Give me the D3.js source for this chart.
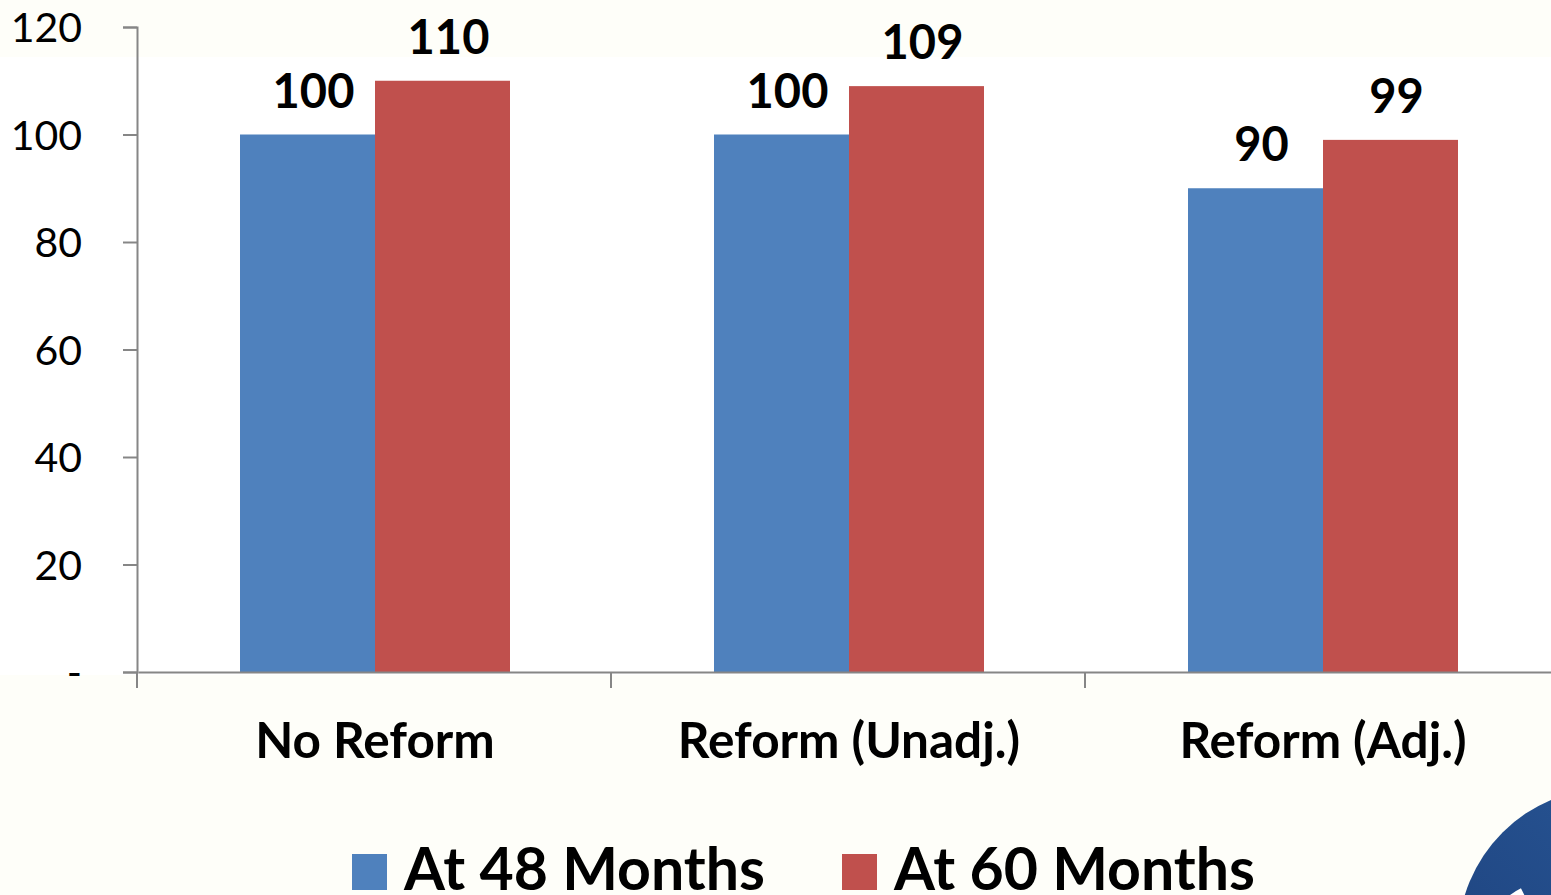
<!DOCTYPE html>
<html>
<head>
<meta charset="utf-8">
<script src="https://cdn.jsdelivr.net/npm/d3@7"></script>
<style>
  html, body { margin: 0; padding: 0; background: #fefef9; overflow: hidden; }
  svg { display: block; }
  text { font-family: Lato, "Open Sans", "DejaVu Sans", sans-serif; fill: #000; }
</style>
</head>
<body>
<svg id="chart" width="1551" height="895"></svg>
<script>
// Payment index by scenario, measured at 48 and 60 months
const categories = ["No Reform", "Reform (Unadj.)", "Reform (Adj.)"];
const seriesNames = ["At 48 Months", "At 60 Months"];
const at48Months = [100, 100, 90];
const at60Months = [110, 109, 99];
const yTicks = [0, 20, 40, 60, 80, 100, 120];
const yTickLabels = ["-", "20", "40", "60", "80", "100", "120"];
const colors = ["#4f81bd", "#c0504d"];

const svg = d3.select("#chart");
const W = 1551, H = 895;

// white plotting band behind the chart
svg.append("rect").attr("x", 0).attr("y", 57).attr("width", W).attr("height", 618).attr("fill", "#ffffff");

const x0 = d3.scaleBand().domain(categories).range([138, 1560]).padding(0);
const x1 = d3.scaleBand().domain(seriesNames).range([102, 372]).padding(0);
const y = d3.scaleLinear().domain([0, 120]).range([672, 27]);

const rows = categories.map((c, i) => ({
  category: c,
  values: [at48Months[i], at60Months[i]].map((v, j) => ({ series: seriesNames[j], value: v, color: colors[j] }))
}));

// bars
const groups = svg.append("g").selectAll("g").data(rows).join("g")
  .attr("transform", d => `translate(${x0(d.category)},0)`);

groups.selectAll("rect").data(d => d.values).join("rect")
  .attr("x", d => x1(d.series))
  .attr("y", d => y(d.value))
  .attr("width", x1.bandwidth())
  .attr("height", d => y(0) - y(d.value))
  .attr("fill", d => d.color);

// value labels
groups.selectAll("text.val").data(d => d.values).join("text")
  .attr("class", "val")
  .attr("x", d => x1(d.series) + x1.bandwidth() / 2 + 6)
  .attr("y", d => y(d.value) - 27)
  .attr("text-anchor", "middle")
  .style("font-size", "47px")
  .style("font-weight", "700")
  .text(d => d.value);

// y axis
const yAxis = svg.append("g").attr("transform", "translate(137,0)")
  .call(d3.axisLeft(y).tickValues(yTicks).tickSize(14).tickPadding(41)
    .tickFormat((d, i) => yTickLabels[i]));
yAxis.select(".domain").attr("stroke", "#868686").attr("stroke-width", 2);
yAxis.selectAll(".tick line").attr("stroke", "#868686").attr("stroke-width", 2);
yAxis.selectAll(".tick text").style("font-size", "41px").attr("fill", "#000").attr("dy", "0.36em")
  .style("font-family", "Lato, 'Open Sans', sans-serif");

// x axis
const xAxis = svg.append("g").attr("transform", "translate(0,672)")
  .call(d3.axisBottom(x0).tickSize(0).tickSizeOuter(0).tickPadding(0));
xAxis.select(".domain").attr("stroke", "#868686").attr("stroke-width", 2);
xAxis.selectAll(".tick text").attr("y", 86).attr("dy", 0)
  .style("font-size", "49.5px").style("font-weight", "700").attr("fill", "#000")
  .style("font-family", "Lato, 'Open Sans', sans-serif");
// boundary ticks between categories
xAxis.selectAll("line.sep").data(categories).join("line")
  .attr("class", "sep")
  .attr("x1", d => x0(d) - 1).attr("x2", d => x0(d) - 1)
  .attr("y1", 0).attr("y2", 16)
  .attr("stroke", "#868686").attr("stroke-width", 2);

// legend
const legendX = [352, 842];
const legend = svg.append("g").selectAll("g").data(seriesNames).join("g")
  .attr("transform", (d, i) => `translate(${legendX[i]},0)`);
legend.append("rect").attr("x", 0).attr("y", 854).attr("width", 35).attr("height", 36)
  .attr("fill", (d, i) => colors[i]);
legend.append("text").attr("x", 52).attr("y", 890)
  .style("font-size", "59px").style("font-weight", "700")
  .text(d => d);

// partial emblem at lower right
const logo = svg.append("g");
const grad = svg.append("defs").append("linearGradient").attr("id", "emb").attr("x1", "0").attr("y1", "1").attr("x2", "1").attr("y2", "0");
grad.append("stop").attr("offset", "0").attr("stop-color", "#1c3f7a");
grad.append("stop").attr("offset", "1").attr("stop-color", "#2a5a9a");
logo.append("circle").attr("cx", 1610).attr("cy", 940).attr("r", 152).attr("fill", "url(#emb)");
logo.append("path")
  .attr("d", d3.arc()({ innerRadius: 60, outerRadius: 86, startAngle: -Math.PI * 0.95, endAngle: -Math.PI * 0.15 }))
  .attr("transform", "translate(1560,965)")
  .attr("fill", "#ffffff");
</script>
</body>
</html>
